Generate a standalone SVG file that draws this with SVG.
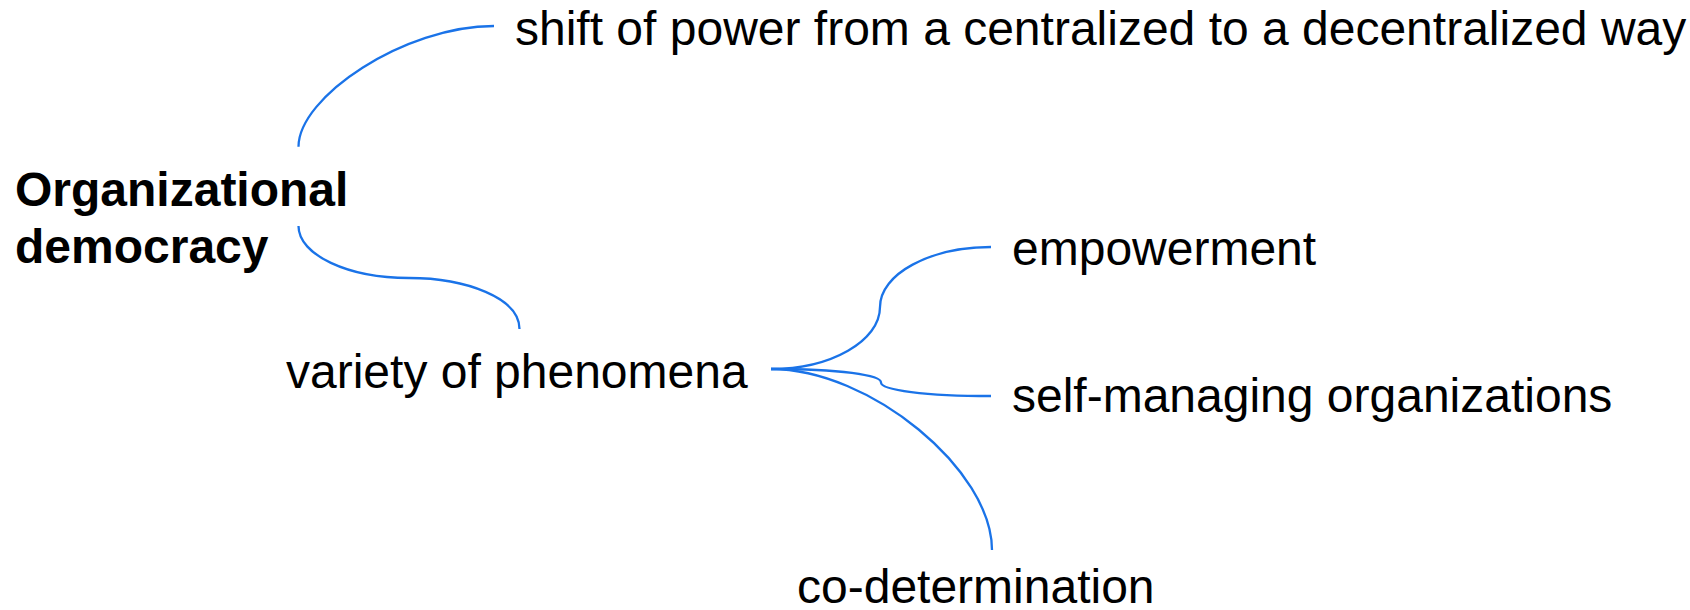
<svg xmlns="http://www.w3.org/2000/svg" width="1690" height="610" viewBox="0 0 1690 610">
<style>
.t{font-family:"Liberation Sans",Arial,sans-serif;font-size:48px;fill:#000}
.b{font-weight:bold}
.c{fill:none;stroke:#1a73e8;stroke-width:2.3;stroke-linecap:butt}
</style>
<rect width="1690" height="610" fill="#fff"/>
<g id="connectors">
<path class="c" d="M298.5,146.7 C298.5,97 404,26 494,26"/>
<path class="c" d="M298.5,226 C298.5,255 348,278 409,278 C466,278 519.5,298 519.5,329"/>
<path class="c" d="M771,369 C831,369 880,341 880,307 C880,274 930,247 991,247"/>
<path class="c" d="M771,369 C840,369 881,375 881,382.5 C881,390 925,396 991,396"/>
<path class="c" d="M771,369 C870,369 992,470 992,550"/>
</g>
<g id="root"><text class="t b" x="15" y="206">Organizational</text><text class="t b" x="15" y="263">democracy</text></g>
<g id="shift"><text class="t" x="515" y="45">shift of power from a centralized to a decentralized way</text></g>
<g id="variety"><text class="t" x="286" y="388">variety of phenomena</text></g>
<g id="empowerment"><text class="t" x="1012" y="265">empowerment</text></g>
<g id="selfmanaging"><text class="t" x="1012" y="412">self-managing organizations</text></g>
<g id="codetermination"><text class="t" x="797" y="603">co-determination</text></g>
</svg>
